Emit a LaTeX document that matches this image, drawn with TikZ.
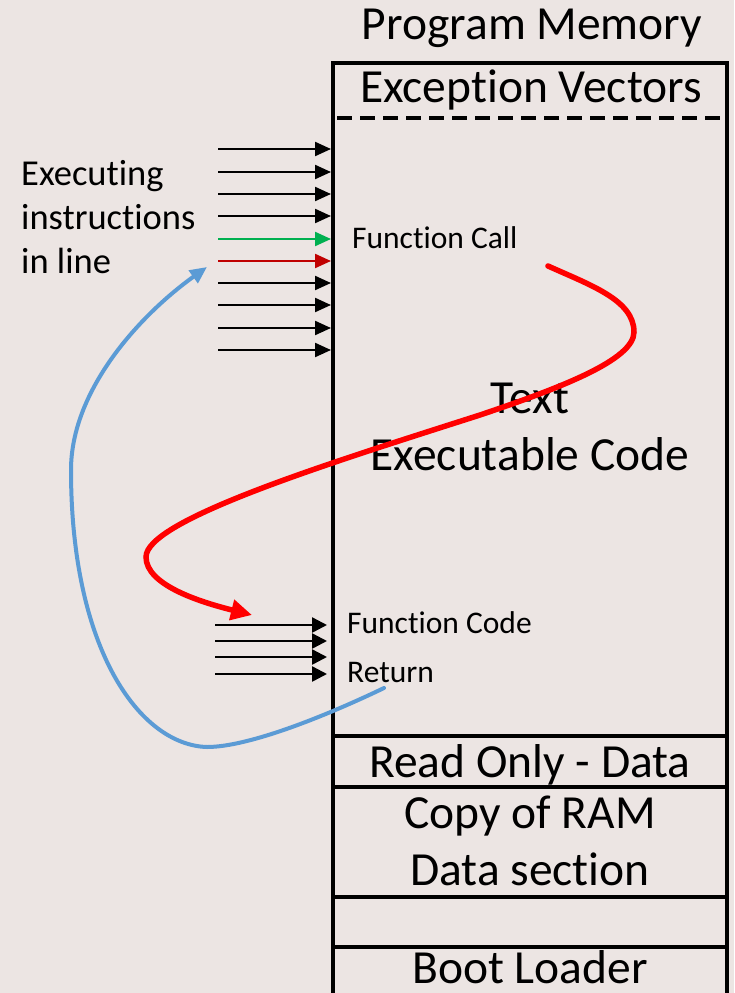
\documentclass[tikz,border=0pt]{standalone}
\usepackage{fontspec}
\setmainfont[Ligatures={NoCommon}]{Carlito}
\usetikzlibrary{arrows.meta}
\definecolor{bgcol}{RGB}{236,229,227}
\definecolor{callgreen}{RGB}{0,176,80}
\definecolor{calldark}{RGB}{192,0,0}
\definecolor{jumpred}{RGB}{255,0,0}
\definecolor{retblue}{RGB}{91,155,213}
\begin{document}
\begin{tikzpicture}[x=1pt,y=-1pt,
  wall/.style={line width=4pt},
  bigtext/.style={font=\fontsize{47.5}{56}\selectfont, inner sep=0pt, anchor=base},
  sidetext/.style={font=\fontsize{36.5}{44}\selectfont, inner sep=0pt, anchor=base west},
  smalltext/.style={font=\fontsize{31.5}{36}\selectfont, inner sep=0pt, anchor=base west},
  instr/.style={line width=2.2pt, -{Triangle[length=16pt,width=14pt]}},
  finstr/.style={line width=2.5pt, -{Triangle[length=15pt,width=15pt]}},
  jump/.style={jumpred, line width=5.5pt, line cap=round, -{Triangle[length=21pt,width=20pt]}},
  back/.style={retblue, line width=4pt, line cap=round, -{Triangle[length=17pt,width=15pt]}}]
\useasboundingbox (0,0) rectangle (734,993);
\fill[bgcol] (0,0) rectangle (734,993);

% memory map outline and section dividers
\draw[wall] (333,1000) -- (333,63) -- (727,63) -- (727,1000);
\draw[wall, dash pattern=on 15pt off 8pt, dash phase=-4pt] (333,118) -- (727,118);
\foreach \yy in {736,787,897,947} \draw[wall] (333,\yy) -- (727,\yy);

% section labels
\node[bigtext] (title) at (532,39) {Program Memory};
\node[bigtext] (vec) at (531,102) {Exception Vectors};
\node[bigtext] (txt) at (530,413) {Text};
\node[bigtext] (code) at (530,470) {Executable Code};
\node[bigtext] (rodata) at (530,777) {Read Only - Data};
\node[bigtext] (ramcopy) at (530,828) {Copy of RAM};
\node[bigtext] (datasec) at (530,885) {Data section};
\node[bigtext] (boot) at (530,983) {Boot Loader};

% side notes
\node[sidetext] (exec1) at (21,185) {Executing};
\node[sidetext] (exec2) at (21,229) {instructions};
\node[sidetext] (exec3) at (21,273) {in line};
\node[smalltext] (fcall) at (352,248) {Function Call};
\node[smalltext] (fcode) at (347,633) {Function Code};
\node[smalltext] (fret) at (347,682) {Return};

% instructions executed in line
\foreach \i/\yy/\cc in {1/149/black,2/172/black,3/194/black,4/216/black,5/239/callgreen,
                        6/261/calldark,7/283/black,8/305/black,9/328/black,10/350/black} {
  \coordinate (is\i) at (218,\yy);
  \coordinate (ie\i) at (331,\yy);
  \draw[instr, draw=\cc, fill=\cc] (is\i) -- (ie\i);
}

% instructions of the called function
\foreach \i/\yy in {1/625,2/641,3/657,4/674} {
  \coordinate (fs\i) at (215,\yy);
  \coordinate (fe\i) at (327,\yy);
  \draw[finstr] (fs\i) -- (fe\i);
}

% jump to the function
\coordinate (jstart) at (548,266);
\coordinate (jend) at (252,615);
\draw[jump] (jstart) .. controls (590,285) and (634,300) .. (634,332)
  .. controls (634,360) and (560,388) .. (480,415)
  .. controls (330,463) and (146,520) .. (146,557)
  .. controls (146,585) and (200,602) .. (jend);

% return to the caller
\coordinate (rstart) at (384,688);
\coordinate (rend) at (207,267);
\draw[back] (rstart) .. controls (330,714) and (250,747) .. (207,747)
  .. controls (140,745) and (71,650) .. (71,470)
  .. controls (71,390) and (140,315) .. (rend);
\end{tikzpicture}
\end{document}
